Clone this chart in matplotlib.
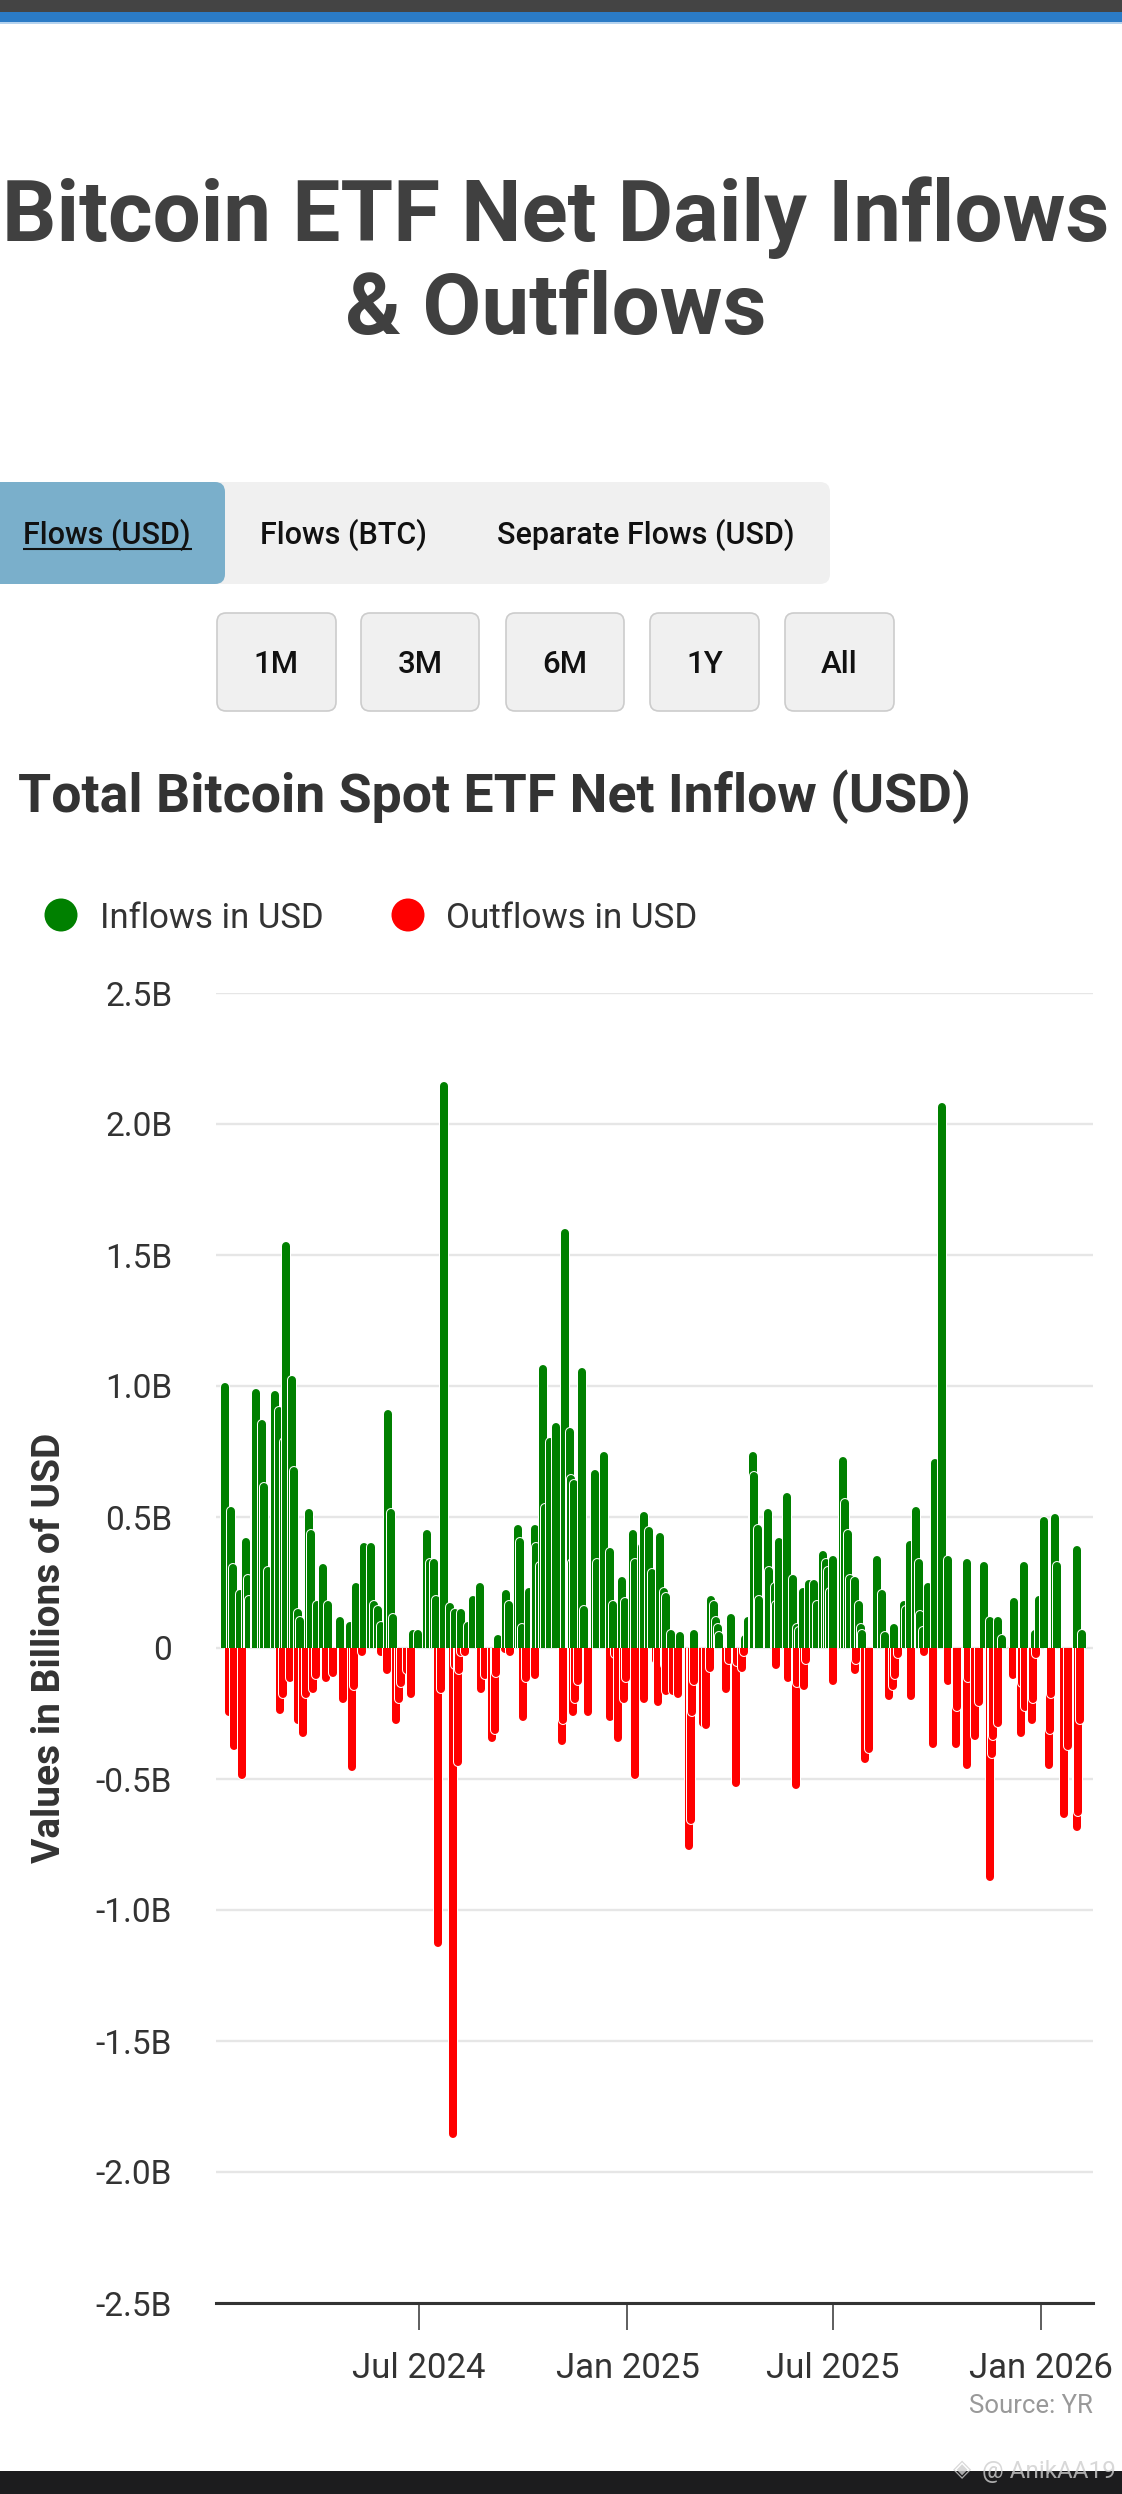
import matplotlib
matplotlib.use("Agg")
from matplotlib import pyplot as plt
from matplotlib.patches import FancyBboxPatch, Rectangle, Circle
from matplotlib.collections import LineCollection
import matplotlib.dates as mdates
import numpy as np
import pandas as pd

## Data, days counted from 2024-01-01, values in billions USD
inflow_day = [11, 16, 18, 24, 29, 31, 32, 37, 38, 43, 45, 49, 55, 58, 63, 65, 70, 72, 75, 77,
              85, 87, 92, 97, 102, 112, 121, 126, 133, 140, 142, 146, 148, 155, 157, 159, 177, 181,
              189, 192, 195, 197, 204, 209, 214, 219, 225, 230, 236, 252, 259, 261,
              269, 271, 273, 279, 284, 285, 289, 291, 293, 298, 303, 311, 315, 316, 317, 319, 326,
              328, 337, 339, 345, 351, 353, 361, 364, 371, 373, 379, 381, 385, 388, 395, 398, 400,
              404, 412, 425, 440, 442, 444, 446, 447, 457, 470, 472, 477, 478, 481, 482, 490, 491,
              496, 497, 500, 507, 512, 516,
              517, 521, 526, 531, 533, 539, 541, 543, 545, 547, 556, 558, 561, 562, 567, 570, 572,
              573, 586, 591, 593, 601, 610, 612, 615, 621, 623, 624, 627, 631, 637, 644, 649, 666,
              681, 686, 693, 697, 707, 716, 726, 729, 734, 743, 745, 763, 767]
inflow_bn = [1.01, 0.54, 0.32, 0.22, 0.42, 0.28, 0.20, 0.64, 0.99, 0.87, 0.63, 0.31, 0.98, 0.92,
             0.80, 1.55, 1.04, 0.69, 0.15, 0.12, 0.53, 0.45, 0.18, 0.32, 0.18, 0.12, 0.10, 0.25,
             0.40, 0.40, 0.18, 0.16, 0.10, 0.91, 0.53, 0.13, 0.07, 0.07, 0.45, 0.34, 0.34, 0.20,
             2.16, 0.17, 0.15, 0.15, 0.10, 0.20, 0.25, 0.05, 0.22, 0.18,
             0.47, 0.42, 0.09, 0.23, 0.47, 0.40, 0.33, 1.08, 0.55, 0.80, 0.86, 1.60, 0.84, 0.66,
             0.34, 0.64, 1.07, 0.16, 0.68, 0.34, 0.75, 0.38, 0.18, 0.27, 0.19, 0.45, 0.34, 0.40,
             0.52, 0.46, 0.30, 0.44, 0.23, 0.21, 0.07, 0.06, 0.07, 0.20, 0.18, 0.12, 0.09, 0.06,
             0.13, 0.05, 0.12, 0.75, 0.67, 0.47, 0.20, 0.53, 0.31, 0.25, 0.18, 0.42, 0.59, 0.28,
             0.09,
             0.08, 0.23, 0.26, 0.26, 0.18, 0.37, 0.34, 0.31, 0.23, 0.35, 0.73, 0.57, 0.45, 0.28,
             0.27, 0.18, 0.09, 0.07, 0.35, 0.22, 0.06, 0.09, 0.18, 0.16, 0.41, 0.54, 0.34, 0.14,
             0.08, 0.25, 0.72, 2.08, 0.35, 0.34, 0.33, 0.12, 0.12, 0.05, 0.19, 0.33, 0.07, 0.20,
             0.50, 0.51, 0.33, 0.39, 0.07]

outflow_day = [14, 19, 26, 59, 62, 68, 75, 80, 82, 88, 91, 100, 106, 115, 123, 125, 132, 148, 154,
               162, 164, 166, 171, 175, 199, 201, 212, 214, 216, 217, 219, 223, 237, 240, 246, 249,
               250, 258,
               262, 274, 276, 284, 308, 309, 318, 320, 322, 331, 351, 355, 358, 363, 365, 373, 381,
               391, 393, 399, 400, 406, 411, 420, 422, 423, 425, 433, 435, 439, 453, 456, 462, 463,
               467, 469, 497, 508, 515, 516,
               522, 524, 547, 567, 568, 576, 579, 597, 600, 602, 605, 616, 628, 636, 649, 656, 657,
               666, 667, 673, 676, 686, 688, 689, 693, 706, 713, 714, 717, 723, 724, 727, 738, 739,
               740, 751, 755, 763, 764, 765]
outflow_bn = [-0.26, -0.39, -0.50, -0.25, -0.19, -0.13, -0.29, -0.34, -0.19, -0.17, -0.12, -0.13,
              -0.11, -0.21, -0.47, -0.16, -0.03, -0.03, -0.10, -0.29, -0.21, -0.15, -0.10, -0.19,
              -1.14, -0.17, -1.87, -0.08, -0.45, -0.10, -0.03, -0.03, -0.17, -0.12, -0.36, -0.33,
              -0.11, -0.02,
              -0.03, -0.28, -0.13, -0.12, -0.37, -0.29, -0.26, -0.21, -0.14, -0.26, -0.28, -0.04,
              -0.36, -0.21, -0.13, -0.50, -0.21, -0.06, -0.22, -0.08, -0.18, -0.18, -0.19, -0.77,
              -0.67, -0.26, -0.14, -0.30, -0.31, -0.09, -0.17, -0.06, -0.53, -0.07, -0.09, -0.03,
              -0.08, -0.13, -0.54, -0.15,
              -0.16, -0.06, -0.14, -0.10, -0.06, -0.44, -0.40, -0.20, -0.16, -0.12, -0.04, -0.20,
              -0.03, -0.38, -0.14, -0.38, -0.24, -0.46, -0.13, -0.35, -0.22, -0.89, -0.42, -0.35,
              -0.30, -0.12, -0.34, -0.15, -0.24, -0.29, -0.21, -0.04, -0.46, -0.33, -0.19, -0.65,
              -0.39, -0.70, -0.64, -0.29]

period_buttons = ["1M", "3M", "6M", "1Y", "All"]
view_tabs = ["Flows (USD)", "Flows (BTC)", "Separate Flows (USD)"]

START = pd.Timestamp("2024-01-01")
W, H = 1122, 2494
FONT = ["Roboto", "DejaVu Sans"]
plt.rcParams["font.family"] = FONT

GREEN = "#008000"
RED = "#ff0000"
TEXT = "#333333"

# plot area in pixels
PL, PR, PT, PB = 216, 1093, 993, 2303
YMIN, YMAX = -2.5, 2.5
FILL_PX, EDGE_PX = 8.0, 10.0


def draw_bars(ax, days, values, color, clip_lo, clip_hi, x0, x1):
    """Rounded-top columns, drawn left to right so later ones overlap earlier ones."""
    xs = mdates.date2num(START + pd.to_timedelta(days, unit="D"))
    r = (FILL_PX / 2) * (YMAX - YMIN) / (PB - PT)
    segs, cols, lws = [], [], []
    for x, v in zip(xs, values):
        end = np.sign(v) * max(abs(v) - r, 0.002)
        seg = [(x, 0), (x, end)]
        segs += [seg, seg]
        cols += ["white", color]
        lws += [EDGE_PX * 0.72, FILL_PX * 0.72]
    lc = LineCollection(segs, colors=cols, linewidths=lws, capstyle="round", zorder=3)
    ax.add_collection(lc)
    clip = Rectangle((x0, clip_lo), x1 - x0, clip_hi - clip_lo, transform=ax.transData)
    lc.set_clip_path(clip)


def ytick_label(v, pos):
    if abs(v) < 1e-9:
        return "0"
    return f"{v:.1f}B"


def main():
    fig = plt.figure(figsize=(W / 100, H / 100), dpi=100)

    ## Page furniture in pixel coordinates
    bg = fig.add_axes([0, 0, 1, 1])
    bg.set_xlim(0, W)
    bg.set_ylim(H, 0)
    bg.axis("off")

    bg.add_patch(Rectangle((0, 0), W, 12, fc="#444444", ec="none"))
    bg.add_patch(Rectangle((0, 12), W, 10, fc="#2b7bc6", ec="none"))
    bg.add_patch(Rectangle((0, 22), W, 2, fc="#b5d3ef", ec="none"))

    bg.text(556, 241, "Bitcoin ETF Net Daily Inflows", ha="center", va="baseline",
            fontsize=61.5, fontweight="bold", color="#404040")
    bg.text(556, 334, "& Outflows", ha="center", va="baseline",
            fontsize=61.5, fontweight="bold", color="#404040")

    # tab group
    bg.add_patch(FancyBboxPatch((0, 482), 830, 102, boxstyle="round,pad=0,rounding_size=10",
                                fc="#f0f0f0", ec="none"))
    bg.add_patch(FancyBboxPatch((-20, 482), 245, 102, boxstyle="round,pad=0,rounding_size=10",
                                fc="#7aafcb", ec="none"))
    tab_x = [107, 343, 646]
    for label, cx in zip(view_tabs, tab_x):
        bg.text(cx, 544, label, ha="center", va="baseline", fontsize=22,
                fontweight="medium", color="#111111")
    bg.plot([23, 192], [549, 549], color="#111111", lw=1.5, solid_capstyle="butt")

    # period buttons
    btn_x = [(217, 336), (361, 479), (506, 624), (650, 759), (785, 894)]
    for label, (a, b) in zip(period_buttons, btn_x):
        bg.add_patch(FancyBboxPatch((a, 613), b - a, 98, boxstyle="round,pad=0,rounding_size=9",
                                    fc="#f0f0f0", ec="#cccccc", lw=1.2))
        bg.text((a + b) / 2, 673, label, ha="center", va="baseline", fontsize=22.5,
                fontweight="medium", color="#111111")

    bg.text(18, 812, "Total Bitcoin Spot ETF Net Inflow (USD)", ha="left", va="baseline",
            fontsize=38.6, fontweight="bold", color=TEXT)

    # legend
    bg.add_patch(Circle((61, 915), 16.5, fc=GREEN, ec="none"))
    bg.text(100, 928, "Inflows in USD", ha="left", va="baseline", fontsize=25, color=TEXT)
    bg.add_patch(Circle((408, 915), 16.5, fc=RED, ec="none"))
    bg.text(446, 928, "Outflows in USD", ha="left", va="baseline", fontsize=25.2, color=TEXT)

    bg.text(50, (PT + PB) / 2, "Values in Billions of USD", rotation=90, ha="center",
            va="center", fontsize=28, fontweight="bold", color=TEXT)

    bg.text(PR, 2413, "Source: YR", ha="right", va="baseline", fontsize=18.5, color="#999999")

    bg.add_patch(Rectangle((0, 2471), W, H - 2471, fc="#1c1c1e", ec="none"))
    bg.text(962, 2476, "\u25c8", ha="center", va="baseline", fontsize=17, color="#cfcfcf",
            family="DejaVu Sans", alpha=0.8)
    bg.text(1116, 2478, "@ AnikAA19", ha="right", va="baseline", fontsize=17.5,
            color="#cfcfcf", alpha=0.8)

    ## Chart
    ax = fig.add_axes([PL / W, 1 - PB / H, (PR - PL) / W, (PB - PT) / H])
    x0 = mdates.date2num(START) + 2.8
    x1 = mdates.date2num(START) + 776.9
    ax.set_xlim(x0, x1)
    ax.set_ylim(YMIN, YMAX)
    ax.patch.set_alpha(0)

    draw_bars(ax, inflow_day, inflow_bn, GREEN, 0, 3, x0, x1)
    draw_bars(ax, outflow_day, outflow_bn, RED, -3, 0, x0, x1)

    ax.set_yticks(np.arange(-2.5, 2.51, 0.5))
    ax.yaxis.set_major_formatter(plt.FuncFormatter(ytick_label))
    ax.yaxis.grid(True, color="#e6e6e6", lw=1.7)
    ax.set_axisbelow(True)
    ax.tick_params(axis="y", length=0, pad=31.5, labelsize=24, labelcolor=TEXT)

    ax.xaxis.set_major_locator(mdates.MonthLocator(bymonth=[1, 7]))
    ax.xaxis.set_major_formatter(mdates.DateFormatter("%b %Y"))
    ax.tick_params(axis="x", direction="out", length=19.4, width=1.1, color=TEXT,
                   pad=16, labelsize=25, labelcolor=TEXT)

    for side in ["top", "right", "left"]:
        ax.spines[side].set_visible(False)
    ax.spines["bottom"].set_color(TEXT)
    ax.spines["bottom"].set_linewidth(2.2)

    fig.savefig("out.png", dpi=100)


if __name__ == "__main__":
    main()
